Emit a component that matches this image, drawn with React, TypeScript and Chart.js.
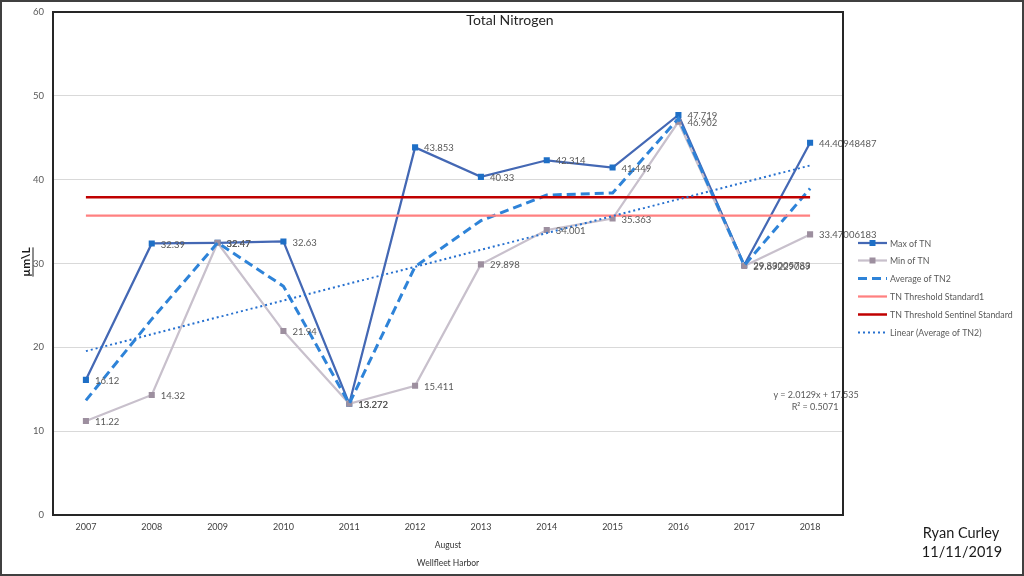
import React, { useEffect, useRef } from "react";
import { Chart, registerables } from "chart.js";

Chart.register(...registerables);

const years = ["2007", "2008", "2009", "2010", "2011", "2012", "2013", "2014", "2015", "2016", "2017", "2018"];
const maxTN = [16.12, 32.39, 32.47, 32.63, 13.272, 43.853, 40.33, 42.314, 41.449, 47.719, 29.83005783, 44.40948487];
const minTN = [11.22, 14.32, 32.47, 21.94, 13.272, 15.411, 29.898, 34.001, 35.363, 46.902, 29.69229069, 33.47006183];
const avgTN2 = [13.67, 23.36, 32.47, 27.29, 13.27, 29.63, 35.11, 38.16, 38.41, 47.31, 29.76, 38.94];
const thresholdStd1 = [35.7, 35.7, 35.7, 35.7, 35.7, 35.7, 35.7, 35.7, 35.7, 35.7, 35.7, 35.7];
const thresholdSentinel = [37.9, 37.9, 37.9, 37.9, 37.9, 37.9, 37.9, 37.9, 37.9, 37.9, 37.9, 37.9];
const linearAvg = [19.55, null, null, null, null, null, null, null, null, null, null, 41.69];
const yTicks = [0, 10, 20, 30, 40, 50, 60];

const FONT = "Lato, 'Open Sans', sans-serif";

const decorPlugin = {
  id: "decor",
  beforeDraw(chart: any) {
    const ctx = chart.ctx;
    ctx.save();
    ctx.fillStyle = "#ffffff";
    ctx.fillRect(0, 0, chart.width, chart.height);
    ctx.restore();
  },
  afterDatasetsDraw(chart: any) {
    const ctx = chart.ctx;
    ctx.save();
    ctx.font = `9.5px ${FONT}`;
    ctx.fillStyle = "#595959";
    ctx.textAlign = "left";
    ctx.textBaseline = "middle";
    [0, 1].forEach((di) => {
      const meta = chart.getDatasetMeta(di);
      const ds = chart.data.datasets[di];
      meta.data.forEach((pt: any, i: number) => {
        const v = ds.data[i];
        if (v == null) return;
        ctx.fillText(String(v), pt.x + 9, pt.y + 1);
      });
    });
    ctx.restore();
  },
  afterDraw(chart: any) {
    const ctx = chart.ctx;
    const a = chart.chartArea;
    ctx.save();
    // plot frame
    ctx.strokeStyle = "#262626";
    ctx.lineWidth = 2;
    ctx.strokeRect(a.left, a.top, a.right - a.left, a.bottom - a.top);
    // outer border
    ctx.strokeStyle = "#404040";
    ctx.lineWidth = 2;
    ctx.strokeRect(1, 1, chart.width - 2, chart.height - 2);

    // title
    ctx.fillStyle = "#262626";
    ctx.font = `14px ${FONT}`;
    ctx.textAlign = "center";
    ctx.textBaseline = "middle";
    ctx.fillText("Total Nitrogen", 510, 20);

    // x axis titles
    const cx = (a.left + a.right) / 2;
    ctx.fillStyle = "#333333";
    ctx.font = `8.5px ${FONT}`;
    ctx.fillText("August", cx, 545);
    ctx.fillText("Wellfleet Harbor", cx, 563);

    // y axis title (rotated, bold, underlined)
    ctx.save();
    ctx.translate(26, 262);
    ctx.rotate(-Math.PI / 2);
    ctx.font = `bold 12px ${FONT}`;
    ctx.fillStyle = "#1a1a1a";
    const yt = "µm\\L";
    const w = ctx.measureText(yt).width;
    ctx.fillText(yt, 0, 0);
    ctx.strokeStyle = "#1a1a1a";
    ctx.lineWidth = 1;
    ctx.beginPath();
    ctx.moveTo(-w / 2, 7);
    ctx.lineTo(w / 2, 7);
    ctx.stroke();
    ctx.restore();

    // trendline equation
    ctx.fillStyle = "#595959";
    ctx.font = `9px ${FONT}`;
    ctx.textAlign = "center";
    ctx.fillText("y = 2.0129x + 17.535", 816, 395);
    ctx.fillText("R² = 0.5071", 815, 407);

    // legend
    const lx0 = 858;
    const lx1 = 887;
    const ly = [243, 260.5, 278.5, 296.5, 314.5, 332.5];
    const items = chart.data.datasets;
    ctx.textAlign = "left";
    ctx.font = `8.8px ${FONT}`;
    items.forEach((ds: any, i: number) => {
      const y = ly[i];
      ctx.save();
      ctx.strokeStyle = ds.borderColor;
      ctx.lineWidth = ds.borderWidth;
      ctx.setLineDash(ds.borderDash || []);
      ctx.beginPath();
      ctx.moveTo(lx0, y);
      ctx.lineTo(lx1, y);
      ctx.stroke();
      ctx.restore();
      if (ds.pointRadius > 0) {
        ctx.fillStyle = ds.pointBackgroundColor;
        ctx.fillRect((lx0 + lx1) / 2 - 3, y - 3, 6, 6);
      }
      ctx.fillStyle = "#595959";
      ctx.fillText(ds.label, 890, y + 1);
    });

    // signature
    ctx.fillStyle = "#1a1a1a";
    ctx.font = `14.5px ${FONT}`;
    ctx.textAlign = "center";
    ctx.fillText("Ryan Curley", 961, 533);
    ctx.fillText("11/11/2019", 962, 552);
    ctx.restore();
  },
};

export default function App() {
  const ref = useRef<HTMLCanvasElement | null>(null);

  useEffect(() => {
    if (!ref.current) return;
    const chart = new Chart(ref.current, {
      type: "line",
      data: {
        labels: years,
        datasets: [
          {
            label: "Max of TN",
            data: maxTN,
            borderColor: "#4468B4",
            borderWidth: 2.25,
            pointStyle: "rect",
            pointRadius: 4.3,
            pointBackgroundColor: "#1E6FC6",
            pointBorderWidth: 0,
            tension: 0,
            order: 6,
          },
          {
            label: "Min of TN",
            data: minTN,
            borderColor: "#C8C0CC",
            borderWidth: 2.25,
            pointStyle: "rect",
            pointRadius: 4.3,
            pointBackgroundColor: "#9D8F9F",
            pointBorderWidth: 0,
            tension: 0,
            order: 5,
          },
          {
            label: "Average of TN2",
            data: avgTN2,
            borderColor: "#2E83D8",
            borderWidth: 3,
            borderDash: [9, 5],
            pointRadius: 0,
            tension: 0,
            order: 4,
          },
          {
            label: "TN Threshold Standard1",
            data: thresholdStd1,
            borderColor: "#FF8080",
            borderWidth: 2.25,
            pointRadius: 0,
            order: 3,
          },
          {
            label: "TN Threshold Sentinel Standard",
            data: thresholdSentinel,
            borderColor: "#C00000",
            borderWidth: 2.5,
            pointRadius: 0,
            order: 2,
          },
          {
            label: "Linear (Average of TN2)",
            data: linearAvg,
            borderColor: "#2670CF",
            borderWidth: 2,
            borderDash: [2, 3],
            pointRadius: 0,
            spanGaps: true,
            order: 1,
          },
        ],
      },
      options: {
        responsive: false,
        animation: false,
        layout: { padding: { left: 0, top: 12, right: 181, bottom: 0 } },
        plugins: {
          legend: { display: false },
          title: { display: false },
          tooltip: { enabled: false },
        },
        scales: {
          x: {
            offset: true,
            grid: { display: false, drawTicks: false },
            border: { display: false },
            ticks: {
              color: "#404040",
              font: { family: FONT, size: 9 },
              padding: 7,
              maxRotation: 0,
            },
            afterFit: (s: any) => {
              s.height = 61;
              s.paddingLeft = 0;
              s.paddingRight = 0;
            },
          },
          y: {
            min: 0,
            max: 60,
            afterBuildTicks: (s: any) => {
              s.ticks = yTicks.map((v) => ({ value: v }));
            },
            grid: { color: "#D9D9D9", lineWidth: 1, drawTicks: false },
            border: { display: false },
            ticks: {
              color: "#595959",
              font: { family: FONT, size: 9.5 },
              padding: 9,
            },
            afterFit: (s: any) => {
              s.width = 53;
              s.paddingTop = 0;
              s.paddingBottom = 0;
            },
          },
        },
      },
      plugins: [decorPlugin],
    } as any);
    return () => chart.destroy();
  }, []);

  return (
    <div style={{ position: "absolute", left: 0, top: 0, width: 1024, height: 576, background: "#fff" }}>
      <canvas ref={ref} width={1024} height={576} style={{ width: 1024, height: 576, display: "block" }} />
    </div>
  );
}
